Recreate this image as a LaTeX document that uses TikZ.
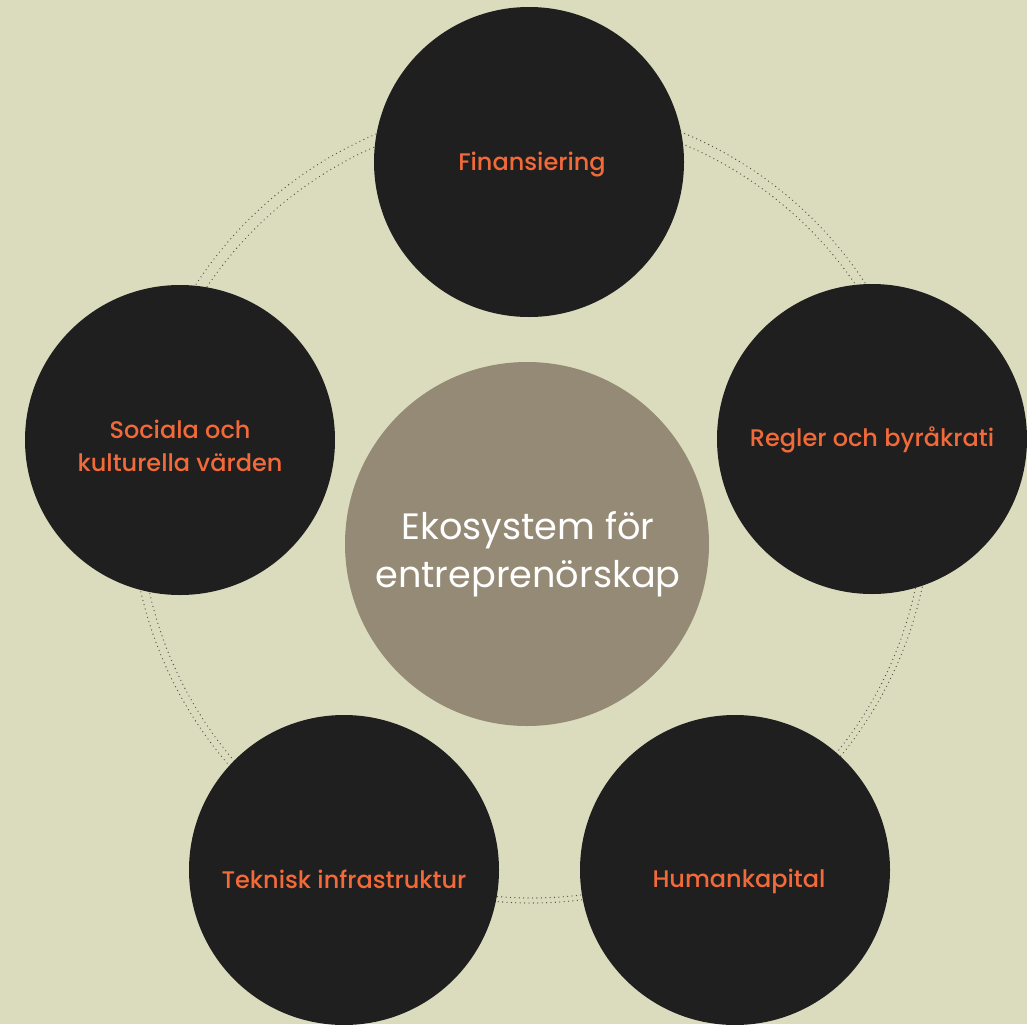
\documentclass[tikz,border=0pt]{standalone}
\usepackage{fontspec}
\setmainfont{Poppins}
\newfontfamily\medfont{Poppins}[UprightFont=* Medium]
\definecolor{bg}{HTML}{DBDCBE}
\definecolor{blk}{HTML}{1F1F1F}
\definecolor{mid}{HTML}{958A76}
\definecolor{org}{HTML}{F26A39}
\definecolor{dotc}{HTML}{55554C}
\begin{document}
\begin{tikzpicture}[x=0.75pt,y=-0.75pt,
  outer/.style={circle,fill=blk,minimum size=232.5pt,inner sep=0pt},
  lbl/.style={text=org,inner sep=0pt,align=center,
    font=\medfont\fontsize{18pt}{25pt}\selectfont},
  hub/.style={circle,fill=mid,minimum size=273pt,inner sep=0pt},
  hubtext/.style={text=white,inner sep=0pt,align=center,
    font=\fontsize{27.5pt}{36pt}\selectfont},
  dotring/.style={draw=dotc,line width=1pt,dash pattern=on 0pt off 3.3pt,line cap=round}]
\fill[bg] (0,0) rectangle (1027,1024);
\useasboundingbox (0,0) rectangle (1027,1024);
\draw[dotring] (531,503) circle[radius=300pt];
\draw[dotring] (532,506) circle[radius=294pt];
\node[hub] (hubc) at (527,544) {};
\node[hubtext] (hubt) at (528,554) {Ekosystem för\\entreprenörskap};
\node[outer] (fin) at (529,162) {};
\node[outer] (reg) at (872,439) {};
\node[outer] (hum) at (735,870) {};
\node[outer] (tek) at (344,870) {};
\node[outer] (soc) at (180,440) {};
\node[lbl] (finl) at (532,165) {Finansiering};
\node[lbl] (regl) at (872,440) {Regler och byråkrati};
\node[lbl] (huml) at (739,881) {Humankapital};
\node[lbl] (tekl) at (344,879) {Teknisk infrastruktur};
\node[lbl] (socl) at (180,446) {Sociala och\\kulturella värden};
\end{tikzpicture}
\end{document}
